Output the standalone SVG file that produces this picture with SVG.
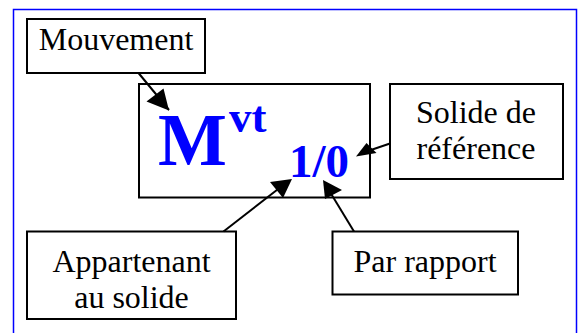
<svg xmlns="http://www.w3.org/2000/svg" width="584" height="333" viewBox="0 0 584 333">
<defs>
<style>
.box{fill:#fff;stroke:#000;stroke-width:2}
.lbl{font-family:"Liberation Serif","Times New Roman",serif;font-size:32px;fill:#000;text-anchor:middle}
.big{font-family:"Liberation Serif","Times New Roman",serif;font-weight:bold;fill:#0000ff}
.con{stroke:#000;stroke-width:2;fill:none;marker-end:url(#ah)}
</style>
<marker id="ah" markerWidth="10" markerHeight="10" refX="9" refY="5" orient="auto" markerUnits="userSpaceOnUse" viewBox="0 0 10 10">
<path d="M0,0 L10,5 L0,10 Z" fill="#000"/>
</marker>
</defs>
<rect x="0" y="0" width="584" height="333" fill="#fff"/>
<rect x="13.5" y="9.5" width="563" height="340" fill="none" stroke="#0000ff" stroke-width="1.5"/>
<g id="main">
<rect class="box" x="139" y="84" width="231" height="113.5"/>
<text class="big" x="158" y="165" font-size="73">M</text>
<text class="big" x="229" y="132" font-size="45">vt</text>
<text class="big" x="289" y="177" font-size="47">1/0</text>
</g>
<g id="mouvement">
<rect class="box" x="27" y="19" width="178" height="54"/>
<text class="lbl" x="116" y="50">Mouvement</text>
</g>
<g id="solide">
<rect class="box" x="390" y="84" width="173" height="95"/>
<text class="lbl" x="476" y="123">Solide de</text>
<text class="lbl" x="476" y="159">référence</text>
</g>
<g id="appartenant">
<rect class="box" x="27" y="231.5" width="209" height="87.5"/>
<text class="lbl" x="131.5" y="272">Appartenant</text>
<text class="lbl" x="131.5" y="308">au solide</text>
</g>
<g id="parrapport">
<rect class="box" x="332.5" y="231.5" width="185.5" height="63"/>
<text class="lbl" x="425" y="272">Par rapport</text>
</g>
<g id="connectors">
<path class="con" d="M138.5,73 L169,110" style="marker-end:none"/>
<polygon points="169,110.5 146.5,101.5 163.5,88.5" fill="#000"/>
<path d="M390,143.5 L365,152" stroke="#000" stroke-width="2"/>
<polygon points="356,156.5 366.5,143 376.5,153" fill="#000"/>
<path d="M223.5,231.5 L282,186" stroke="#000" stroke-width="2"/>
<polygon points="292,179 270,182 283,198" fill="#000"/>
<path d="M354,231.5 L330,192" stroke="#000" stroke-width="2"/>
<polygon points="323,180 325,199 342,190" fill="#000"/>
</g>
</svg>
